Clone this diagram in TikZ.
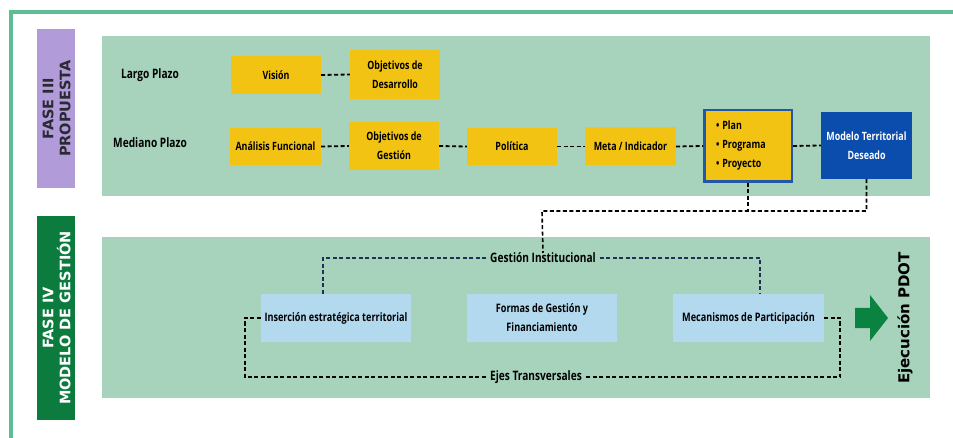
\documentclass[tikz,border=0pt]{standalone}
\usepackage{fontspec}
\setmainfont{Open Sans}[FakeStretch=0.78]
\newfontfamily\headfont{DejaVu Sans}
\definecolor{frameg}{HTML}{5DBE94}
\definecolor{panelg}{HTML}{A7D3BD}
\definecolor{purp}{HTML}{B19CD9}
\definecolor{darkg}{HTML}{0B7B3E}
\definecolor{yel}{HTML}{F2C313}
\definecolor{bluebox}{HTML}{0A4DAD}
\definecolor{bordb}{HTML}{2257A8}
\definecolor{lblue}{HTML}{B3D9EE}
\definecolor{navy}{HTML}{1F2F55}
\definecolor{arrowg}{HTML}{0A8240}
\definecolor{headtxt}{HTML}{2A2A35}
\tikzset{
  ybox/.style={fill=yel, inner sep=0pt, align=center, font=\fontsize{11.4}{19}\selectfont\bfseries},
  bbox/.style={fill=lblue, inner sep=0pt, align=center, font=\fontsize{11.7}{19}\selectfont\bfseries},
  lbl/.style={inner sep=0pt, font=\fontsize{13}{15}\selectfont\bfseries},
  blk/.style={black, line width=1.8pt, dash pattern=on 4pt off 2.5pt},
  nav/.style={navy, line width=1.5pt, dash pattern=on 4pt off 2.5pt},
  vhead/.style={rotate=90, align=center, inner sep=0pt, font=\headfont\fontsize{14.5}{17}\selectfont\bfseries},
}
\begin{document}
\begin{tikzpicture}[x=1pt, y=-1pt]
\useasboundingbox (0,0) rectangle (953,438);
% frame
\draw[frameg, line width=4pt] (11,438) -- (11,12) -- (953,12);
% side labels
\fill[purp] (37,29) rectangle (75,188);
\node[vhead, text=headtxt] (f3) at (56.5,108.5) {FASE III\\PROPUESTA};
\fill[darkg] (37,216) rectangle (75,420);
\node[vhead, text=white] (f4) at (56.5,318) {FASE IV\\MODELO DE GESTIÓN};
% panels
\fill[panelg] (102,36) rectangle (930,196);
\fill[panelg] (102,237) rectangle (930,398);
% row labels
\node[lbl] (lp) at (150,75) {Largo Plazo};
\node[lbl] (mp) at (150,143) {Mediano Plazo};
% yellow boxes
\node[ybox, minimum width=90pt, minimum height=38pt] (vis) at (276,75) {Visión};
\node[ybox, minimum width=90pt, minimum height=49pt] (od) at (395,74.5) {Objetivos de\\Desarrollo};
\node[ybox, minimum width=91pt, minimum height=37pt] (af) at (275.5,146.5) {Análisis Funcional};
\node[ybox, minimum width=90pt, minimum height=48pt] (og) at (394,146) {Objetivos de\\Gestión};
\node[ybox, minimum width=90pt, minimum height=37pt] (pol) at (512,146.5) {Política};
\node[ybox, minimum width=91pt, minimum height=38pt] (meta) at (630.5,146.5) {Meta / Indicador};
\node[ybox, draw=bordb, line width=2.5pt, minimum width=87.5pt, minimum height=71.5pt, text width=64pt, align=left] (plan) at (748,146)
  {•\hspace{3pt}Plan\\•\hspace{3pt}Programa\\•\hspace{3pt}Proyecto};
\node[ybox, fill=bluebox, text=white, minimum width=91pt, minimum height=67pt] (mod) at (866.5,145.5) {Modelo Territorial\\Deseado};
% dashed links
\draw[blk] (vis.east) -- (od.west);
\draw[blk] (af.east) -- (og.west);
\draw[blk] (og.east) -- (pol.west);
\draw[blk] (pol.east) -- (meta.west);
\draw[blk] (meta.east) -- (plan.west);
\draw[blk] (plan.east) -- (mod.west);
% bottom boxes
\node[bbox, minimum width=150pt, minimum height=48pt] (ins) at (336,318) {Inserción estratégica territorial};
\node[bbox, minimum width=150pt, minimum height=48pt] (for) at (542,318) {Formas de Gestión y\\Financiamiento};
\node[bbox, minimum width=151pt, minimum height=48pt] (mec) at (748.5,318) {Mecanismos de Participación};
\node[lbl, inner xsep=4pt] (gi) at (543,258) {Gestión Institucional};
\node[lbl, inner xsep=4pt] (ej) at (536,377) {Ejes Transversales};
% connectors
\coordinate (j1) at (542,211);
\draw[blk, line width=1.6pt] (mod.south) |- (j1) -- (gi.north);
\draw[blk, line width=1.6pt] (plan.south) -- (plan.south |- j1);
\draw[nav] (gi.west) -| ([xshift=-13pt]ins.north);
\draw[nav] (gi.east) -| ([xshift=11.5pt]mec.north);
\draw[blk, line width=1.6pt] (ins.west) -- ++(-16,0) |- (ej.west);
\draw[blk, line width=1.6pt] (mec.east) -- ++(16,0) |- (ej.east);
% arrow
\fill[arrowg] (855,308) -- (870,308) -- (870,295) -- (888,318) -- (870,341) -- (870,328) -- (855,328) -- cycle;
\node[rotate=90, inner sep=0pt, font=\headfont\fontsize{15}{17}\selectfont\bfseries] (ex) at (905,318) {Ejecución PDOT};
\end{tikzpicture}
\end{document}
